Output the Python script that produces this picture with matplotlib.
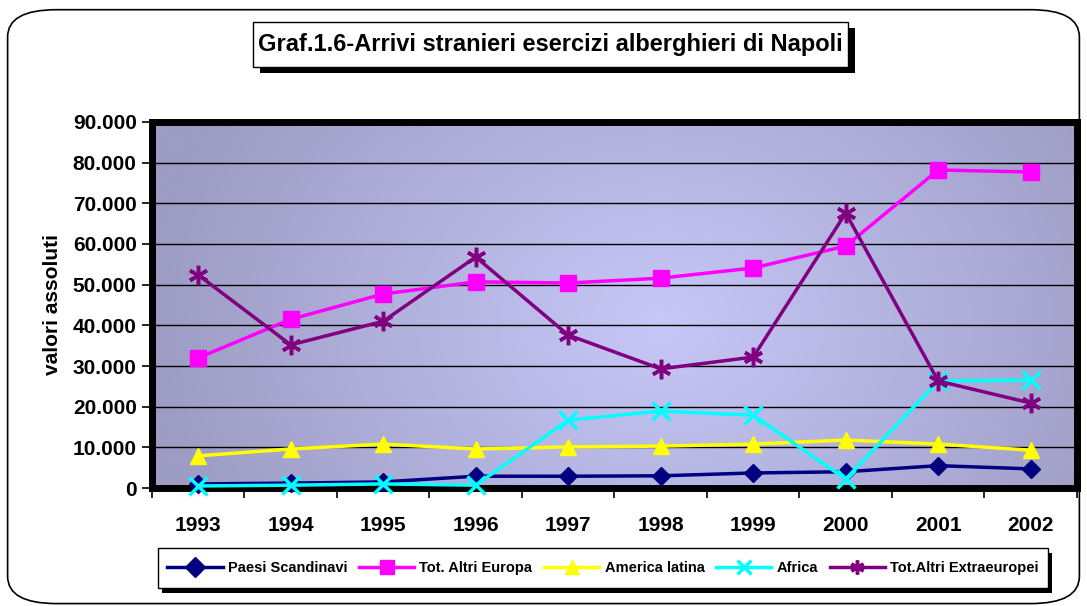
import numpy as np
import matplotlib
matplotlib.use("Agg")
import matplotlib.pyplot as plt
from matplotlib.patches import FancyBboxPatch, Rectangle

plt.rcParams['font.family'] = ['Liberation Sans', 'DejaVu Sans']

# dati
anni = ['1993', '1994', '1995', '1996', '1997', '1998', '1999', '2000', '2001', '2002']
paesi_scandinavi = [1000, 1200, 1500, 2900, 2900, 3000, 3700, 4000, 5500, 4700]
altri_europa = [32000, 41500, 47700, 50700, 50400, 51600, 54100, 59500, 78200, 77700]
america_latina = [7900, 9600, 10800, 9600, 10100, 10300, 10800, 11800, 10800, 9300]
africa = [500, 700, 1000, 700, 16700, 18900, 17900, 2200, 26300, 26500]
altri_extraeuropei = [52400, 35200, 41000, 56800, 37600, 29300, 32200, 67600, 26300, 20900]
y_ticks = [0, 10000, 20000, 30000, 40000, 50000, 60000, 70000, 80000, 90000]

fig = plt.figure(figsize=(10.87, 6.06), dpi=100)

# bordo arrotondato della figura
fig.patches.append(FancyBboxPatch((0.007, 0.004), 0.986, 0.98,
                                  boxstyle="round,pad=0,rounding_size=0.045",
                                  transform=fig.transFigure, fill=False,
                                  edgecolor='black', linewidth=1.2))

ax = fig.add_axes([0.1398, 0.1947, 0.851, 0.604])

# sfondo sfumato
gx = np.linspace(0, 1, 300)
gy = np.linspace(0, 1, 200)
X, Y = np.meshgrid(gx, gy)
d = np.sqrt(((X - 0.55) / 0.55) ** 2 + ((Y - 0.45) / 1.1) ** 2)
d = np.clip(d, 0, 1)
c_in = np.array([200, 200, 248]) / 255
c_out = np.array([156, 156, 196]) / 255
img = c_in[None, None, :] * (1 - d[..., None]) + c_out[None, None, :] * d[..., None]
ax.imshow(img, extent=[0, 1, 0, 1], transform=ax.transAxes, aspect='auto',
          origin='lower', zorder=0)

x = np.arange(len(anni))
kw = dict(lw=2.5, zorder=5, clip_on=False)
ax.plot(x, paesi_scandinavi, color='#000080', marker='D', markersize=9,
        label='Paesi Scandinavi', **kw)
ax.plot(x, altri_europa, color='#FF00FF', marker='s', markersize=12,
        label='Tot. Altri Europa', **kw)
ax.plot(x, america_latina, color='#FFFF00', marker='^', markersize=12,
        label='America latina', **kw)
ax.plot(x, africa, color='#00FFFF', marker='x', markersize=13, mew=2.5,
        label='Africa', **kw)
ax.plot(x, altri_extraeuropei, color='#800080', marker=(6, 2, 0), markersize=14,
        mew=2.5, label='Tot.Altri Extraeuropei', **kw)

ax.set_xlim(-0.5, len(anni) - 0.5)
ax.set_ylim(0, 90000)
ax.set_yticks(y_ticks)
ax.set_yticklabels([f"{v:,}".replace(',', '.') for v in y_ticks],
                   fontsize=15, fontweight='bold')
ax.set_xticks(x)
ax.set_xticklabels(anni, fontsize=15, fontweight='bold')
ax.set_xticks(np.arange(-0.5, len(anni)), minor=True)
ax.tick_params(axis='x', which='major', length=0, pad=20)
ax.tick_params(axis='x', which='minor', length=7, width=1.2, direction='out')
ax.tick_params(axis='y', length=7, width=1.2, direction='out', pad=4)
ax.grid(axis='y', color='black', linewidth=1, zorder=1)
ax.set_axisbelow(True)
for s in ax.spines.values():
    s.set_linewidth(5)
    s.set_zorder(4)
ax.set_ylabel('valori assoluti', fontsize=15, fontweight='bold', labelpad=8)

# titolo con ombra
fig.patches.append(Rectangle((0.2392, 0.879), 0.5474, 0.0743,
                             transform=fig.transFigure, facecolor='black',
                             edgecolor='none'))
fig.patches.append(Rectangle((0.2328, 0.8894), 0.5474, 0.0743,
                             transform=fig.transFigure, facecolor='white',
                             edgecolor='black', linewidth=1))
fig.text(0.5065, 0.9265, 'Graf.1.6-Arrivi stranieri esercizi alberghieri di Napoli',
         ha='center', va='center', fontsize=17, fontweight='bold')

# legenda con ombra
fig.patches.append(Rectangle((0.1491, 0.0215), 0.8187, 0.066,
                             transform=fig.transFigure, facecolor='black',
                             edgecolor='none'))
fig.patches.append(Rectangle((0.1454, 0.0297), 0.8187, 0.066,
                             transform=fig.transFigure, facecolor='white',
                             edgecolor='black', linewidth=1))
handles, labels = ax.get_legend_handles_labels()
leg = fig.legend(handles, labels, loc='center', bbox_to_anchor=(0.5547, 0.0627),
                 ncol=5, frameon=False, prop={'size': 10.5, 'weight': 'bold'},
                 handlelength=3.8, columnspacing=0.8, handletextpad=0.35)
for h in leg.legend_handles:
    h.set_markersize(10)

fig.savefig('out.png', dpi=100)
